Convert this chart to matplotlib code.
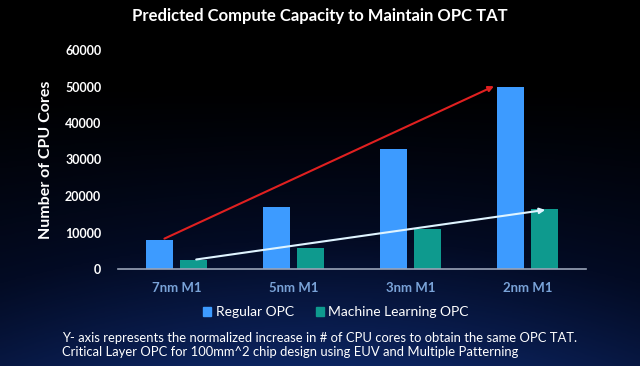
import numpy as np
import matplotlib
matplotlib.use("Agg")
import matplotlib.pyplot as plt
from matplotlib.patches import Patch
from matplotlib.colors import LinearSegmentedColormap

categories = ["7nm M1", "5nm M1", "3nm M1", "2nm M1"]
regular_opc = [8000, 17000, 33000, 50000]
ml_opc = [2500, 5700, 11000, 16500]
y_ticks = [0, 10000, 20000, 30000, 40000, 50000, 60000]

title = "Predicted Compute Capacity to Maintain OPC TAT"
footer = ("Y- axis represents the normalized increase in # of CPU cores to obtain the same OPC TAT.\n"
          "Critical Layer OPC for 100mm^2 chip design using EUV and Multiple Patterning")

plt.rcParams['font.family'] = ['Lato', 'DejaVu Sans']

W, H = 640, 366
fig = plt.figure(figsize=(W / 100, H / 100), dpi=100)

# background gradient
bg = fig.add_axes([0, 0, 1, 1])
bg.set_axis_off()
yy = np.linspace(0, 1, 200)[:, None]
xx = np.linspace(0, 1, 300)[None, :]
grad = np.clip((yy - 0.22) / 0.78, 0, 1) ** 1.2
grad = grad * (0.75 + 0.25 * np.sin(xx * np.pi))
cmap = LinearSegmentedColormap.from_list("bgc", ["#000000", "#030b24", "#0c2460"])
bg.imshow(grad, cmap=cmap, aspect="auto", extent=[0, 1, 0, 1], origin="upper", vmin=0, vmax=1)
bg.set_xlim(0, 1)
bg.set_ylim(0, 1)

# main axes
ax = fig.add_axes([118 / W, 1 - 269 / H, (586 - 118) / W, (269 - 50) / H])
ax.set_facecolor("none")
x = np.arange(len(categories))
bw = 0.23
off = 0.145
ax.bar(x - off, regular_opc, bw, color="#3d9bff", label="Regular OPC", zorder=2)
ax.bar(x + off, ml_opc, bw, color="#0e9a8e", label="Machine Learning OPC", zorder=2)

ax.set_xlim(-0.5, 3.5)
ax.set_ylim(0, 60000)
ax.set_yticks(y_ticks)
ax.set_yticklabels([str(v) for v in y_ticks], color="white", fontsize=9, fontweight="bold")
ax.set_xticks(x)
ax.set_xticklabels(categories, color="#7aa3d8", fontsize=9.5, fontweight="bold")
ax.tick_params(axis="both", length=0)
ax.tick_params(axis="y", pad=12)
ax.tick_params(axis="x", pad=9)
for s in ["top", "right", "left"]:
    ax.spines[s].set_visible(False)
ax.spines["bottom"].set_color("#9aa4b8")
ax.spines["bottom"].set_linewidth(1.2)

ax.set_ylabel("Number of CPU Cores", color="white", fontsize=11.5, fontweight="bold")
ax.yaxis.set_label_coords((53 - 118) / (586 - 118), 0.5)

# trend arrows
ax.annotate("", xy=(x[3] - off - 0.12, regular_opc[3] + 400), xytext=(x[0] - off + 0.02, regular_opc[0]),
            arrowprops=dict(arrowstyle="-|>", color="#e02020", lw=1.5, mutation_scale=8), zorder=3)
ax.annotate("", xy=(x[3] + off + 0.03, ml_opc[3] - 200), xytext=(x[0] + off, ml_opc[0]),
            arrowprops=dict(arrowstyle="-|>", color="#dff4ff", lw=1.5, mutation_scale=8), zorder=3)

fig.text(0.5, 1 - 16 / H, title, ha="center", va="center", color="white",
         fontsize=12, fontweight="bold")

handles = [Patch(color="#3d9bff"), Patch(color="#0e9a8e")]
fig.legend(handles, ["Regular OPC", "Machine Learning OPC"], loc="center",
           bbox_to_anchor=(336 / W, 1 - 312 / H), ncol=2, frameon=False,
           fontsize=10, labelcolor="white", handlelength=0.6, handleheight=0.6,
           handletextpad=0.3, columnspacing=1.6)

fig.text(62 / W, 1 - 345 / H, footer, ha="left", va="center", color="white",
         fontsize=9.4, linespacing=1.25)

fig.savefig("out.png", dpi=100, facecolor="black")
